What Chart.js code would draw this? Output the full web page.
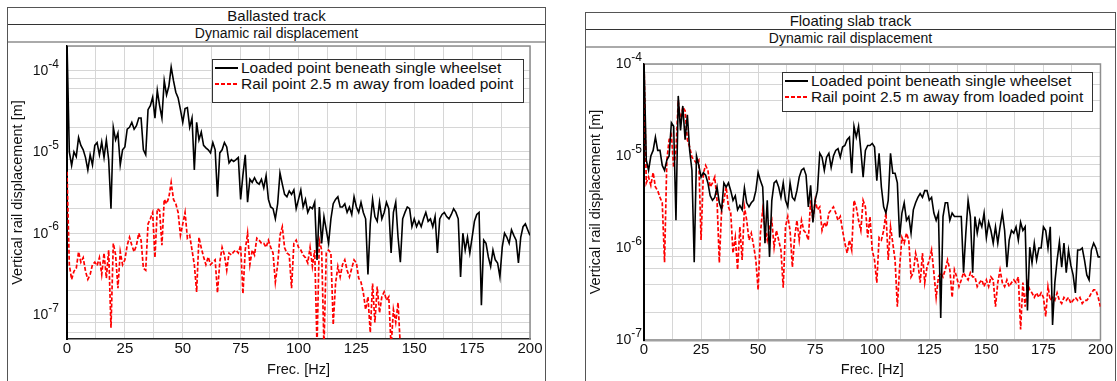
<!DOCTYPE html>
<html><head><meta charset="utf-8">
<script src="https://cdn.jsdelivr.net/npm/chart.js@4.4.1/dist/chart.umd.min.js"></script>
<style>
html,body{margin:0;padding:0;background:#fff;}
body{width:1117px;height:381px;position:relative;overflow:hidden;font-family:"Liberation Sans",Arial,sans-serif;color:#111;}
.panel{position:absolute;border:1px solid #555;border-bottom:none;box-sizing:border-box;}
.t1{height:17px;line-height:16px;text-align:center;font-size:15px;border-bottom:1px solid #333;box-sizing:border-box;}
.t2{height:18px;line-height:16px;text-align:center;font-size:14px;border-bottom:2px solid #aaa;box-sizing:border-box;}
.cv{position:absolute;}
.legend{position:absolute;border:1px solid #333;background:#fff;box-sizing:border-box;font-size:15.5px;}
.row{height:16px;line-height:16px;white-space:nowrap;display:flex;align-items:center;}
.sw{width:23px;height:2px;margin:0 3px 0 2px;flex:none;display:inline-block;}
</style></head>
<body>
<div class="panel" style="left:7px;top:7px;width:539px;height:380px">
  <div class="t1" id="title1"></div>
  <div class="t2" id="sub1"></div>
</div>
<div class="panel" style="left:585px;top:12px;width:531px;height:380px">
  <div class="t1" id="title2"></div>
  <div class="t2" id="sub2"></div>
</div>
<canvas id="c1" class="cv" width="536" height="338" style="left:8px;top:43px"></canvas>
<canvas id="c2" class="cv" width="528" height="333" style="left:586px;top:48px"></canvas>
<div class="legend" id="lg1" style="left:212px;top:59px;width:312px;height:44px"></div>
<div class="legend" id="lg2" style="left:782px;top:72px;width:311px;height:40px"></div>
<script>
// ---------- DATA ----------
const panelTitles = ["Ballasted track", "Floating slab track"];
const subTitle = "Dynamic rail displacement";
const seriesNames = ["Loaded point beneath single wheelset", "Rail point 2.5 m away from loaded point"];
const xTitle = "Frec. [Hz]";
const yTitle = "Vertical rail displacement [m]";
const xTickLabels = [0, 25, 50, 75, 100, 125, 150, 175, 200];
const freq = Array.from({length: 201}, (_, i) => i); // Hz

// Ballasted track
const ballastedLoaded = [
2.2e-4,1.0e-5,6.8e-6,1.0e-5,8.7e-6,1.5e-5,1.2e-5,1.06e-5,8.5e-6,6.0e-6,
9.2e-6,6.9e-6,1.2e-5,1.3e-5,9.2e-6,1.32e-5,8.5e-6,1.4e-5,8.0e-6,2.0e-6,
2.0e-5,1.4e-5,1.7e-5,6.9e-6,1.06e-5,1.15e-5,1.9e-5,2.0e-5,2.3e-5,1.9e-5,
2.1e-5,2.6e-5,2.6e-5,1.06e-5,9.2e-6,3.3e-5,3.7e-5,4.7e-5,2.6e-5,5.7e-5,
3.7e-5,2.6e-5,7.5e-5,5.0e-5,6.4e-5,1.1e-4,7.5e-5,5.4e-5,4.6e-5,3.3e-5,
2.3e-5,3.4e-5,3.5e-5,2.0e-5,2.6e-5,6.0e-6,2.3e-5,1.4e-5,1.75e-5,1.2e-5,
1.12e-5,1.06e-5,9.7e-6,1.3e-5,1.06e-5,2.8e-6,9.7e-6,1.06e-5,1.3e-5,1.15e-5,
7.3e-6,8.0e-6,7.6e-6,8.0e-6,8.5e-6,2.6e-6,5.2e-6,9.2e-6,2.4e-6,4.6e-6,
4.2e-6,4.8e-6,4.2e-6,4.0e-6,4.6e-6,3.6e-6,5.1e-6,2.6e-6,2.1e-6,2.0e-6,
1.5e-6,2.3e-6,5.5e-6,4.0e-6,3.0e-6,2.8e-6,3.3e-6,3.0e-6,3.4e-6,2.0e-6,
2.6e-6,3.4e-6,2.1e-6,2.6e-6,1.8e-6,2.1e-6,2.0e-6,2.4e-6,4.7e-7,2.1e-6,
7.5e-7,1.6e-6,1.1e-6,7.5e-7,1.5e-6,2.3e-6,2.6e-6,2.8e-6,2.1e-6,2.1e-6,
2.3e-6,1.8e-6,2.1e-6,1.7e-6,2.8e-6,2.1e-6,1.8e-6,2.4e-6,1.8e-6,1.5e-6,
3.1e-7,1.3e-6,2.6e-6,1.6e-6,1.4e-6,2.4e-6,1.5e-6,1.8e-6,2.4e-6,2.0e-6,
5.7e-7,1.8e-6,2.4e-6,8.9e-7,4.4e-7,1.5e-6,1.8e-6,2.1e-6,2.0e-6,1.2e-6,
1.5e-6,1.2e-6,1.4e-6,1.2e-6,1.5e-6,1.8e-6,1.4e-6,1.5e-6,1.2e-6,1.6e-6,
5.7e-7,1.5e-6,1.7e-6,1.8e-6,1.6e-6,1.5e-6,1.7e-6,2.0e-6,1.8e-6,1.5e-6,
2.9e-7,1.0e-6,6.2e-7,8.9e-7,5.7e-7,8.9e-7,1.4e-6,1.7e-6,1.8e-6,1.3e-7,
8.2e-7,7.5e-7,5.1e-7,3.9e-7,6.2e-7,4.7e-7,4.3e-7,2.9e-7,6.7e-7,1.0e-6,
8.9e-7,7.5e-7,1.1e-6,9.4e-7,8.2e-7,4.3e-7,8.9e-7,1.2e-6,1.3e-6,1.1e-6,
9.4e-7];
const ballastedFar = [
5.7e-6,4.1e-7,2.7e-7,3.4e-7,3.7e-7,5.9e-7,4.4e-7,5.0e-7,3.4e-7,2.7e-7,
3.1e-7,4.1e-7,4.4e-7,4.0e-7,5.0e-7,3.1e-7,5.7e-7,2.8e-7,6.2e-7,6.9e-8,
7.5e-7,5.4e-7,2.1e-7,5.9e-7,4.1e-7,4.7e-7,7.1e-7,8.9e-7,7.1e-7,5.9e-7,
7.1e-7,1.0e-6,8.2e-7,3.7e-7,3.5e-7,1.3e-6,1.5e-6,1.8e-6,5.0e-7,2.0e-6,
1.9e-6,7.1e-7,2.6e-6,2.3e-6,2.75e-6,4.2e-6,2.6e-6,2.3e-6,1.8e-6,9.4e-7,
1.3e-6,1.8e-6,8.7e-7,9.4e-7,6.2e-7,4.1e-7,1.9e-7,8.9e-7,6.6e-7,5.1e-7,
4.1e-7,5.1e-7,4.1e-7,4.4e-7,4.7e-7,1.85e-7,4.4e-7,6.7e-7,5.4e-7,3.5e-7,
5.7e-7,5.4e-7,5.9e-7,6.2e-7,5.7e-7,7.1e-7,1.8e-7,6.2e-7,1.0e-6,4.1e-7,
6.2e-7,5.4e-7,8.7e-7,8.2e-7,7.5e-7,7.5e-7,6.7e-7,8.2e-7,6.7e-7,5.7e-7,
2.5e-7,4.1e-7,9.4e-7,1.2e-6,6.6e-7,5.7e-7,5.4e-7,2.1e-7,7.5e-7,8.2e-7,
6.7e-7,6.2e-7,5.4e-7,5.0e-7,4.3e-7,6.7e-7,3.9e-7,6.2e-7,4.0e-8,8.2e-7,
6.2e-7,4.0e-8,5.7e-7,6.2e-7,5.7e-7,7.5e-8,2.4e-7,3.9e-7,2.9e-7,4.1e-7,
4.7e-7,3.5e-7,2.9e-7,3.7e-7,4.7e-7,4.3e-7,2.8e-7,2.5e-7,1.85e-7,1.15e-7,
1.65e-7,6.0e-8,2.4e-7,8.0e-8,2.2e-7,1.05e-7,1.65e-7,1.9e-7,1.5e-7,1.65e-7,
4.0e-8,1.15e-7,8.0e-8,1.4e-7,4.0e-8,3.0e-8,null,null,null,null,
null,null,null,null,null,null,null,null,null,null,
null,null,null,null,null,null,null,null,null,null,
null,null,null,null,null,null,null,null,null,null,
null,null,null,null,null,null,null,null,null,null,
null,null,null,null,null,null,null,null,null,null,
null];

// Floating slab track
const slabLoaded = [
1.1e-4,9.0e-6,7.0e-6,1.0e-5,1.15e-5,1.6e-5,1.15e-5,1.15e-5,7.9e-6,7.0e-6,
9.0e-6,1.0e-5,2.3e-5,2.1e-5,2.0e-6,4.5e-5,1.9e-5,3.5e-5,1.5e-5,2.8e-5,
1.15e-5,7.0e-6,7.0e-7,1.0e-5,7.9e-6,5.9e-6,6.6e-6,6.2e-6,5.1e-6,3.7e-6,
3.3e-6,3.55e-6,4.6e-6,3.1e-6,2.6e-6,5.1e-6,4.6e-6,5.1e-6,4.2e-6,3.3e-6,
3.7e-6,2.6e-6,2.9e-6,2.6e-6,4.5e-6,3.1e-6,2.8e-6,3.1e-6,3.3e-6,4.2e-6,
6.6e-6,5.4e-6,4.6e-6,1.13e-6,3.3e-6,8.0e-7,3.3e-6,5.1e-6,5.4e-6,4.6e-6,
3.55e-6,5.1e-6,3.3e-6,2.8e-6,5.1e-6,3.55e-6,3.3e-6,4.2e-6,5.9e-6,7.0e-6,
7.35e-6,6.2e-6,2.8e-6,4.8e-6,1.9e-6,3.3e-6,4.2e-6,1.07e-5,9.7e-6,7.0e-6,
9.7e-6,1.07e-5,7.5e-6,1.0e-5,1.15e-5,1.2e-5,9.7e-6,1.25e-5,1.3e-5,1.5e-5,
1.6e-5,6.5e-6,2.1e-5,1.6e-5,2.1e-5,1.15e-5,5.9e-6,1.15e-5,1.3e-5,1.3e-5,
1.37e-5,1.25e-5,5.4e-6,1.07e-5,4.6e-6,2.8e-6,2.4e-6,3.3e-6,1.07e-5,6.5e-6,
6.5e-6,5.1e-6,1.3e-6,2.4e-6,3.1e-6,2.0e-6,2.2e-6,1.45e-6,2.6e-6,3.1e-6,
3.55e-6,3.9e-6,3.55e-6,4.2e-6,4.2e-6,3.3e-6,3.55e-6,2.4e-6,2.0e-6,2.4e-6,
1.74e-7,2.2e-6,3.1e-6,3.1e-6,2.0e-6,2.4e-6,2.2e-6,2.2e-6,2.2e-6,2.2e-6,
5.4e-7,1.45e-6,3.3e-6,2.2e-6,5.4e-7,2.2e-6,1.45e-6,2.0e-6,1.7e-6,2.4e-6,
1.3e-6,1.9e-6,1.55e-6,1.13e-6,1.7e-6,1.13e-6,1.7e-6,2.4e-6,1.55e-6,6.2e-7,
1.22e-6,1.55e-6,1.45e-6,1.7e-6,1.22e-6,1.9e-6,1.55e-6,1.7e-6,2.1e-7,1.02e-6,
6.9e-7,1.13e-6,7.4e-7,1.0e-6,1.0e-6,1.7e-6,1.55e-6,1.0e-6,1.7e-6,1.46e-7,
4.2e-7,7.4e-7,1.16e-6,6.2e-7,1.13e-6,5.4e-7,9.5e-7,6.5e-7,5.1e-7,3.25e-7,
9.5e-7,9.5e-7,1.0e-6,7.4e-7,5.1e-7,4.5e-7,9.5e-7,1.13e-6,1.0e-6,8.0e-7,
8.0e-7];
const slabFar = [
1.05e-4,5.1e-6,5.9e-6,4.8e-6,6.6e-6,4.6e-6,4.2e-6,3.55e-6,3.1e-6,7.0e-7,
9.0e-6,1.5e-5,1.7e-5,7.5e-6,1.15e-5,4.0e-5,2.4e-5,3.4e-5,3.1e-5,1.5e-5,
1.25e-5,9.7e-6,9.0e-6,8.3e-6,9.0e-6,1.22e-6,6.5e-6,7.9e-6,7.0e-6,4.6e-6,
5.1e-6,5.9e-6,3.3e-6,6.9e-7,2.6e-6,3.3e-6,4.6e-6,2.8e-6,2.4e-6,8.8e-7,
1.3e-6,5.8e-7,1.7e-6,7.4e-7,2.8e-6,2.0e-6,1.22e-6,1.45e-6,1.07e-6,7.4e-7,
3.5e-7,1.45e-6,2.6e-6,1.7e-6,1.22e-6,1.7e-6,2.0e-6,1.02e-6,1.55e-6,1.22e-6,
9.5e-7,3.7e-7,1.7e-6,2.2e-6,1.55e-6,6.2e-7,1.3e-6,2.0e-6,1.22e-6,2.0e-6,
1.55e-6,1.45e-6,1.22e-6,3.3e-6,2.0e-6,3.3e-6,2.6e-6,2.8e-6,1.55e-6,1.9e-6,
1.7e-6,2.4e-6,2.6e-6,2.8e-6,2.4e-6,2.0e-6,2.2e-6,1.55e-6,1.13e-6,8.8e-7,
1.22e-6,9.5e-7,3.3e-6,2.8e-6,2.0e-6,1.55e-6,3.3e-6,2.8e-6,1.3e-6,2.2e-6,
9.5e-7,7.4e-7,4.2e-7,1.3e-6,1.22e-6,1.55e-6,2.4e-6,7.4e-7,1.7e-6,1.13e-6,
7.4e-7,2.3e-7,6.2e-7,1.3e-6,1.13e-6,1.45e-6,1.22e-6,4.85e-7,5.4e-7,8.8e-7,
6.9e-7,4.2e-7,8.8e-7,4.2e-7,6.2e-7,7.4e-7,9.5e-7,5.4e-7,2.9e-7,4.85e-7,
5.4e-7,4.85e-7,5.8e-7,7.4e-7,5.8e-7,2.9e-7,5.8e-7,4.85e-7,3.8e-7,4.5e-7,
5.4e-7,4.85e-7,4.5e-7,5.4e-7,4.85e-7,4.85e-7,3.8e-7,4.2e-7,4.5e-7,3.8e-7,
4.5e-7,3.8e-7,4.85e-7,4.5e-7,2.3e-7,4.2e-7,5.8e-7,4.2e-7,3.8e-7,4.5e-7,
3.8e-7,4.2e-7,4.5e-7,4.2e-7,4.85e-7,1.3e-7,4.2e-7,2.3e-7,4.2e-7,3.5e-7,
3.25e-7,2.9e-7,3.25e-7,2.9e-7,3.25e-7,2.9e-7,1.8e-7,3.8e-7,2.7e-7,2.9e-7,
2.7e-7,3.25e-7,2.7e-7,2.5e-7,2.9e-7,2.7e-7,2.9e-7,2.5e-7,2.7e-7,2.9e-7,
2.7e-7,2.9e-7,2.5e-7,2.7e-7,2.7e-7,2.9e-7,3.25e-7,3.5e-7,3.5e-7,2.9e-7,
2.3e-7];

// ---------- RENDER ----------
Chart.defaults.font.family = '"Liberation Sans", Arial, sans-serif';
Chart.defaults.color = '#111';

document.getElementById('title1').textContent = panelTitles[0];
document.getElementById('title2').textContent = panelTitles[1];
document.getElementById('sub1').textContent = subTitle;
document.getElementById('sub2').textContent = subTitle;

function decadeExp(v) {
  const e = Math.log10(v), r = Math.round(e);
  return Math.abs(e - r) > 1e-6 ? null : r;
}
function logTicks(min, max) {
  const t = [];
  for (let e = -9; e <= -3; e++) {
    for (const m of [1, 2, 4, 6, 8]) {
      const v = m * Math.pow(10, e);
      if (v >= min * 0.999 && v <= max * 1.001) t.push({value: v});
    }
  }
  return t;
}
const framePlugin = {
  id: 'frame',
  beforeDatasetsDraw(chart) {
    const {ctx, chartArea: a} = chart;
    ctx.save();
    ctx.strokeStyle = '#8f8f8f';
    ctx.lineWidth = 1.5;
    ctx.beginPath();
    ctx.moveTo(a.left, a.top); ctx.lineTo(a.right, a.top); ctx.lineTo(a.right, a.bottom);
    ctx.stroke();
    ctx.restore();
  }
};
// power-of-ten tick labels with a raised exponent
const powLabelPlugin = {
  id: 'powLabels',
  afterDraw(chart, args, opts) {
    const sc = chart.scales.y, ctx = chart.ctx;
    const ff = '"Liberation Sans", Arial, sans-serif';
    ctx.save();
    ctx.fillStyle = '#111';
    ctx.textBaseline = 'middle';
    sc.ticks.forEach(t => {
      const e = decadeExp(t.value);
      if (e === null) return;
      const y = sc.getPixelForValue(t.value);
      const xr = chart.chartArea.left - opts.pad;
      const exp = String(e);
      ctx.font = '12px ' + ff;
      const ew = ctx.measureText(exp).width;
      ctx.textAlign = 'right';
      ctx.fillText(exp, xr, y - 6);
      ctx.font = '14px ' + ff;
      ctx.fillText('10', xr - ew, y + 0.5);
    });
    ctx.restore();
  }
};

function makeChart(id, loaded, far, o) {
  const datasets = [
    {label: seriesNames[0], data: freq.map((f, i) => ({x: f, y: loaded[i]})),
     borderColor: '#000000', borderWidth: 1.6, pointRadius: 0, tension: 0, spanGaps: false},
    {label: seriesNames[1], data: freq.map((f, i) => ({x: f, y: far[i]})),
     borderColor: '#ff0000', borderWidth: 1.7, borderDash: [4, 2], pointRadius: 0, tension: 0, spanGaps: false}
  ];
  return new Chart(document.getElementById(id), {
    type: 'line',
    data: {datasets},
    options: {
      responsive: false, animation: false, events: [],
      layout: {padding: {left: 0, right: o.padR, top: o.padT, bottom: 0}},
      plugins: {legend: {display: false}, tooltip: {enabled: false}, powLabels: {pad: o.yPad}},
      scales: {
        x: {
          type: 'linear', min: 0, max: 200,
          ticks: {stepSize: 12.5, autoSkip: false, maxRotation: 0, padding: 1, font: {size: 15}, color: '#111',
                  callback: v => (xTickLabels.includes(v) ? String(v) : '')},
          grid: {color: '#d6d6d6', drawTicks: false, lineWidth: 1},
          border: {color: o.xAxisColor, width: o.xAxisWidth},
          title: {display: true, text: xTitle, font: {size: 14.5}, color: '#111', padding: {top: 0, bottom: 2}},
          afterFit: s => { s.height = o.xH; }
        },
        y: {
          type: 'logarithmic', min: o.ymin, max: o.ymax,
          afterBuildTicks: s => { s.ticks = logTicks(o.ymin, o.ymax); },
          ticks: {display: false, autoSkip: false,
                  callback: v => { const e = decadeExp(v); return e === null ? '' : '10^' + e; }},
          grid: {color: '#d6d6d6', drawTicks: false, lineWidth: 1},
          border: {color: '#000', width: 2},
          title: {display: true, text: yTitle, font: {size: 14.5}, color: '#111', padding: {top: 1.6, bottom: 0}},
          afterFit: s => { s.width = o.yW; }
        }
      }
    },
    plugins: [framePlugin, powLabelPlugin]
  });
}

function buildLegend(elId, chart) {
  const el = document.getElementById(elId);
  chart.data.datasets.forEach(ds => {
    const row = document.createElement('div'); row.className = 'row';
    const sw = document.createElement('span'); sw.className = 'sw';
    sw.style.background = ds.borderDash
      ? 'repeating-linear-gradient(to right,' + ds.borderColor + ' 0 4px, transparent 4px 6px)'
      : ds.borderColor;
    const tx = document.createElement('span'); tx.textContent = ds.label;
    row.appendChild(sw); row.appendChild(tx); el.appendChild(row);
  });
}

const c1 = makeChart('c1', ballastedLoaded, ballastedFar,
  {padR: 14, padT: 3, xH: 42, yW: 59, yPad: 8, ymin: 5e-8, ymax: 2e-4, xAxisColor: '#222', xAxisWidth: 1.5});
const c2 = makeChart('c2', slabLoaded, slabFar,
  {padR: 12, padT: 16, xH: 41, yW: 58, yPad: 2, ymin: 1e-7, ymax: 1e-4, xAxisColor: '#a0a0a0', xAxisWidth: 2.5});
buildLegend('lg1', c1);
buildLegend('lg2', c2);
</script>
</body></html>
